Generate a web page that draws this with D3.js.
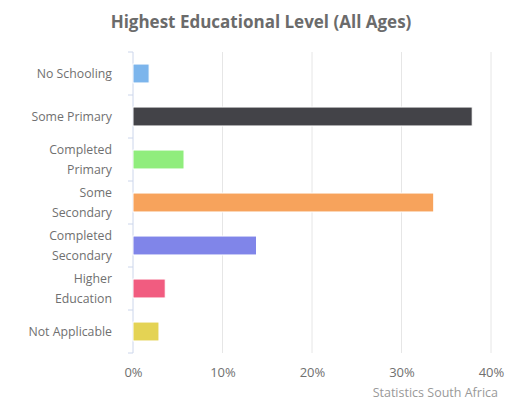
<!DOCTYPE html>
<html>
<head>
<meta charset="utf-8">
<script src="https://cdn.jsdelivr.net/npm/d3@7"></script>
<style>
  html, body { margin: 0; padding: 0; background: #ffffff; }
  svg { display: block; font-family: "Open Sans", "Lato", sans-serif; }
</style>
</head>
<body>
<svg id="chart" width="518" height="406"></svg>
<script>
const categories = [
  ["No Schooling"],
  ["Some Primary"],
  ["Completed", "Primary"],
  ["Some", "Secondary"],
  ["Completed", "Secondary"],
  ["Higher", "Education"],
  ["Not Applicable"]
];
const values = [1.8, 37.9, 5.7, 33.6, 13.8, 3.6, 2.9];
const colors = ["#7cb5ec", "#434348", "#90ed7d", "#f7a35c", "#8085e9", "#f15c80", "#e4d354"];
const xTicks = [0, 10, 20, 30, 40];
const titleText = "Highest Educational Level (All Ages)";
const creditText = "Statistics South Africa";

const svg = d3.select("#chart");
const margin = { left: 133, right: 27, top: 52, bottom: 53 };
const W = 518, H = 406;
const plotW = W - margin.left - margin.right;
const plotH = H - margin.top - margin.bottom;

const keys = categories.map(c => c.join(" "));
const x = d3.scaleLinear().domain([0, 40]).range([margin.left, margin.left + plotW]);
const y = d3.scaleBand().domain(keys).range([margin.top, margin.top + plotH])
  .paddingInner(0.56).paddingOuter(0.28);
const step = y.step();

// title
svg.append("text")
  .attr("x", 261).attr("y", 28)
  .attr("text-anchor", "middle")
  .attr("font-size", 17).attr("font-weight", "bold")
  .attr("fill", "#6b6b6b")
  .text(titleText);

// vertical gridlines
svg.append("g").selectAll("line").data(xTicks.slice(1)).join("line")
  .attr("x1", d => x(d)).attr("x2", d => x(d))
  .attr("y1", margin.top).attr("y2", margin.top + plotH)
  .attr("stroke", "#e6e6e6").attr("stroke-width", 1);

// x axis labels
const xAxis = d3.axisBottom(x).tickValues(xTicks).tickFormat(d => d + "%").tickSize(0).tickPadding(15);
const gx = svg.append("g").attr("transform", `translate(0,${margin.top + plotH})`).call(xAxis);
gx.select(".domain").remove();
gx.selectAll("text").attr("font-size", 13).attr("fill", "#707070")
  .attr("font-family", "'Open Sans', Lato, sans-serif");

// y axis line
svg.append("line")
  .attr("x1", margin.left).attr("x2", margin.left)
  .attr("y1", margin.top).attr("y2", margin.top + plotH)
  .attr("stroke", "#ccd6eb").attr("stroke-width", 1);

// y ticks between categories
const boundaries = d3.range(categories.length + 1).map(i => margin.top + i * step);
svg.append("g").selectAll("line").data(boundaries).join("line")
  .attr("x1", margin.left - 5).attr("x2", margin.left)
  .attr("y1", d => d).attr("y2", d => d)
  .attr("stroke", "#ccd6eb").attr("stroke-width", 1);

// y labels
const yl = svg.append("g").selectAll("text").data(categories).join("text")
  .attr("text-anchor", "end")
  .attr("font-size", 12.3).attr("fill", "#707070")
  .attr("x", margin.left - 21)
  .attr("y", (d, i) => y(keys[i]) + y.bandwidth() / 2);
yl.each(function(d) {
  const t = d3.select(this);
  const lh = 20;
  const n = d.length;
  d.forEach((line, j) => {
    t.append("tspan")
      .attr("x", margin.left - 21)
      .attr("dy", j === 0 ? ((-(n - 1) * lh) / 2 + 4) : lh)
      .text(line);
  });
});

// bars
svg.append("g").selectAll("rect").data(values).join("rect")
  .attr("x", x(0))
  .attr("y", (d, i) => y(keys[i]))
  .attr("width", d => x(d) - x(0))
  .attr("height", y.bandwidth())
  .attr("fill", (d, i) => colors[i])
  .attr("stroke", "#ffffff").attr("stroke-width", 1);

// credit
svg.append("text")
  .attr("x", 498).attr("y", 397)
  .attr("text-anchor", "end")
  .attr("font-size", 12.5).attr("fill", "#999999")
  .text(creditText);
</script>
</body>
</html>
